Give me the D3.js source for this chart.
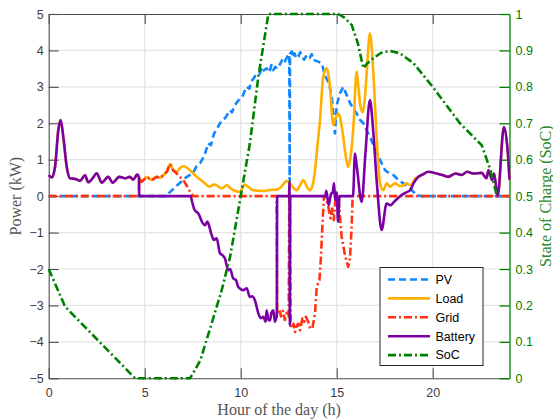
<!DOCTYPE html>
<html>
<head>
<meta charset="utf-8">
<script src="https://cdn.jsdelivr.net/npm/d3@7"></script>
<style>
  body { margin: 0; background: #fff; }
  svg { display: block; }
  .tick text { font-family: "Liberation Sans", Arial, sans-serif; font-size: 12.5px; }
</style>
</head>
<body>
<div id="chart"></div>
<script>
// ---------- data (hours / kW, SoC as fraction) ----------
var pvHours = [0, 6.1, 6.23, 6.5, 6.7, 6.95, 7.19, 7.5, 7.7, 7.88, 8.1, 8.31, 8.45, 8.6, 8.92, 9.05, 9.2, 9.44, 9.55, 9.7, 9.96, 10.1, 10.3, 10.45, 10.55, 10.7, 10.83, 11.0, 11.1, 11.2, 11.35, 11.5, 11.6, 11.7, 11.8, 11.9, 12.05, 12.2, 12.3, 12.45, 12.53, 12.55, 12.57, 12.66, 12.75, 12.8, 12.9, 13.0, 13.1, 13.2, 13.3, 13.44, 13.6, 13.7, 13.78, 14.0, 14.22, 14.4, 14.6, 14.75, 14.91, 15.0, 15.17, 15.34, 15.5, 15.7, 15.87, 16.04, 16.2, 16.39, 16.56, 16.73, 17.0, 17.26, 17.52, 17.75, 17.95, 18.2, 18.47, 18.8, 19.17, 19.4, 24];
var pvValues = [0, 0, 0.07, 0.2, 0.3, 0.42, 0.53, 0.62, 0.82, 0.9, 1.1, 1.45, 1.4, 1.7, 2.0, 2.1, 2.15, 2.36, 2.3, 2.5, 2.68, 2.75, 3.0, 2.95, 3.15, 3.25, 3.37, 3.37, 3.55, 3.45, 3.51, 3.4, 3.6, 3.46, 3.55, 3.5, 3.62, 3.78, 3.7, 3.85, 3.9, 0.4, 3.9, 3.97, 3.8, 3.92, 3.78, 3.83, 3.95, 3.85, 3.75, 3.87, 3.8, 3.9, 3.74, 3.7, 3.65, 3.3, 3.1, 2.7, 1.72, 2.5, 2.82, 3.0, 2.8, 2.55, 2.4, 2.27, 2.1, 2.0, 1.8, 1.63, 1.3, 0.99, 0.71, 0.62, 0.58, 0.45, 0.35, 0.22, 0.03, 0, 0];

var loadHours = [0, 0.16, 0.33, 0.5, 0.62, 0.76, 0.94, 1.11, 1.4, 1.63, 1.89, 2.06, 2.3, 2.5, 2.76, 3.1, 3.33, 3.68, 3.97, 4.23, 4.4, 4.61, 4.7, 4.84, 5.1, 5.36, 5.62, 5.8, 5.97, 6.15, 6.32, 6.49, 6.67, 6.85, 7.01, 7.2, 7.36, 7.71, 8.05, 8.4, 8.6, 8.75, 9.01, 9.27, 9.5, 9.7, 9.96, 10.22, 10.4, 10.66, 10.9, 11.18, 11.5, 11.87, 12.1, 12.4, 12.57, 12.75, 12.92, 13.1, 13.26, 13.45, 13.6, 13.75, 13.87, 14.0, 14.13, 14.3, 14.48, 14.65, 14.82, 14.95, 15.1, 15.2, 15.34, 15.47, 15.6, 15.75, 15.87, 16.04, 16.13, 16.21, 16.35, 16.45, 16.56, 16.73, 16.9, 17.08, 17.26, 17.43, 17.6, 17.78, 18.04, 18.3, 18.5, 18.65, 18.85, 19.08, 19.25, 19.5, 19.77, 20.0, 20.2, 20.5, 20.8, 21.2, 21.5, 21.8, 22.1, 22.55, 22.8, 22.9, 23.1, 23.2, 23.38, 23.71, 23.94, 24];
var loadValues = [0.58, 0.51, 0.8, 1.81, 2.09, 1.63, 0.8, 0.49, 0.47, 0.42, 0.57, 0.38, 0.5, 0.63, 0.37, 0.53, 0.37, 0.53, 0.49, 0.53, 0.45, 0.59, 0.52, 0.39, 0.53, 0.44, 0.53, 0.5, 0.58, 0.67, 0.88, 0.71, 0.67, 0.78, 0.82, 0.78, 0.71, 0.53, 0.39, 0.26, 0.32, 0.3, 0.21, 0.3, 0.2, 0.15, 0.12, 0.32, 0.25, 0.16, 0.15, 0.14, 0.17, 0.18, 0.25, 0.42, 0.35, 0.22, 0.16, 0.3, 0.44, 0.25, 0.16, 0.3, 0.71, 1.4, 2.09, 3.28, 3.51, 3.0, 1.95, 2.15, 2.27, 2.1, 1.63, 1.1, 0.8, 1.2, 1.9, 3.42, 3.0, 2.55, 2.3, 2.6, 3.37, 4.47, 3.46, 1.63, 0.35, 0.16, 0.35, 0.26, 0.35, 0.28, 0.3, 0.35, 0.3, 0.48, 0.53, 0.6, 0.67, 0.65, 0.62, 0.58, 0.53, 0.62, 0.58, 0.67, 0.62, 0.64, 0.49, 0.71, 0.44, 0.62, 0, 1.9, 0.99, 0.45];

var gridHours = [0, 4.7, 4.71, 4.84, 5.1, 5.36, 5.62, 5.8, 5.97, 6.15, 6.32, 6.5, 6.67, 6.85, 7.01, 7.2, 7.36, 7.53, 11.87, 11.9, 12.0, 12.1, 12.2, 12.3, 12.4, 12.5, 12.53, 12.56, 12.6, 12.66, 12.75, 12.83, 12.92, 13.0, 13.09, 13.21, 13.3, 13.39, 13.52, 13.61, 13.73, 13.87, 13.96, 14.1, 14.17, 14.27, 14.34, 14.4, 14.55, 14.68, 14.77, 14.85, 14.95, 15.08, 15.26, 15.43, 15.6, 15.69, 15.78, 15.83, 24];
var gridValues = [0, 0, 0.52, 0.39, 0.53, 0.44, 0.53, 0.5, 0.58, 0.67, 0.88, 0.7, 0.62, 0.52, 0.44, 0.28, 0.12, 0, 0, -3.2, -3.1, -3.3, -3.15, -3.4, -3.2, -3.3, 0, 0, -3.5, -3.63, -3.5, -3.73, -3.55, -3.5, -3.68, -3.36, -3.45, -3.31, -3.45, -3.63, -3.63, -3.22, -2.49, -2.31, -1.76, -0.66, 0, 0, -0.25, -0.61, -0.34, -0.66, 0, 0, -1.12, -1.62, -1.94, -1.71, -0.84, 0, 0];

var batteryHours = [0, 0.16, 0.33, 0.5, 0.62, 0.76, 0.94, 1.11, 1.4, 1.63, 1.89, 2.06, 2.3, 2.5, 2.76, 3.1, 3.33, 3.68, 3.97, 4.23, 4.4, 4.61, 4.7, 4.71, 7.4, 7.45, 7.6, 7.8, 8.0, 8.14, 8.26, 8.49, 8.6, 8.75, 8.92, 9.05, 9.18, 9.35, 9.45, 9.61, 9.75, 9.87, 10.0, 10.13, 10.31, 10.48, 10.6, 10.74, 10.92, 11.05, 11.18, 11.3, 11.35, 11.45, 11.53, 11.6, 11.7, 11.78, 11.84, 11.88, 11.9, 12.52, 12.54, 12.56, 12.58, 14.4, 14.46, 14.58, 14.7, 14.8, 14.86, 14.92, 15.0, 15.07, 15.15, 15.85, 15.95, 16.05, 16.3, 16.5, 16.73, 16.9, 17.1, 17.34, 17.6, 17.8, 18.0, 18.3, 18.6, 18.82, 19.0, 19.25, 19.5, 19.77, 20.0, 20.2, 20.5, 20.8, 21.2, 21.5, 21.8, 22.1, 22.55, 22.8, 22.9, 23.1, 23.2, 23.38, 23.71, 23.94, 24];
var batteryValues = [0.58, 0.51, 0.8, 1.81, 2.09, 1.63, 0.8, 0.49, 0.47, 0.42, 0.57, 0.38, 0.5, 0.63, 0.37, 0.53, 0.37, 0.53, 0.49, 0.53, 0.45, 0.59, 0.52, 0, 0, -0.11, -0.38, -0.48, -0.72, -0.8, -0.7, -1.07, -1.2, -1.16, -1.57, -1.62, -1.71, -2.03, -2.0, -2.26, -2.3, -2.49, -2.55, -2.58, -2.53, -2.77, -2.75, -2.86, -3.22, -3.35, -3.31, -3.45, -3.13, -3.4, -3.41, -3.2, -3.13, -3.45, -3.36, -3.3, 0, 0, 0.4, -3.55, 0, 0, 0.15, -0.25, 0.05, 0.12, 0.35, -0.1, 0.1, -0.7, 0, 0, 1.17, 0.8, -0.16, 1.2, 2.64, 1.8, 0.3, -0.93, -0.2, -0.25, -0.15, 0, 0.1, 0.16, 0.35, 0.53, 0.6, 0.67, 0.65, 0.62, 0.58, 0.53, 0.62, 0.58, 0.67, 0.62, 0.64, 0.49, 0.71, 0.44, 0.62, 0, 1.9, 0.99, 0.45];

var socHours = [0, 0.85, 4.5, 7.36, 7.62, 7.9, 8.14, 8.57, 9.01, 9.45, 9.96, 10.48, 10.92, 11.44, 15.08, 15.4, 15.78, 16.1, 16.39, 16.6, 16.9, 17.3, 17.78, 18.3, 19.0, 20.0, 21.42, 22.55, 22.98, 23.35];
var socValues = [0.3, 0.197, 0, 0, 0.023, 0.05, 0.091, 0.165, 0.242, 0.334, 0.488, 0.645, 0.828, 1.0, 1.0, 0.99, 0.97, 0.92, 0.851, 0.865, 0.878, 0.893, 0.899, 0.892, 0.865, 0.8, 0.7, 0.64, 0.576, 0.5];

var hourTicks = [0, 5, 10, 15, 20];
var powerTicks = [-5, -4, -3, -2, -1, 0, 1, 2, 3, 4, 5];
var socTicks = [0, 0.1, 0.2, 0.3, 0.4, 0.5, 0.6, 0.7, 0.8, 0.9, 1];

var seriesNames = ["PV", "Load", "Grid", "Battery", "SoC"];

// ---------- layout ----------
var width = 553, height = 419;
var plotLeft = 48.7, plotRight = 509.5, plotTop = 14, plotBottom = 378.3;

var svg = d3.select("#chart").append("svg")
    .attr("width", width)
    .attr("height", height);

var x = d3.scaleLinear().domain([0, 24]).range([plotLeft, plotRight]);
var y = d3.scaleLinear().domain([-5, 5]).range([plotBottom, plotTop]);
var ySoc = d3.scaleLinear().domain([0, 1]).range([plotBottom, plotTop]);

var axisGray = "#4d4d4d";
var socGreen = "#008000";

// grid lines
svg.append("g").selectAll("line")
    .data(hourTicks.slice(1))
    .enter().append("line")
    .attr("x1", function(d) { return x(d); })
    .attr("x2", function(d) { return x(d); })
    .attr("y1", plotTop).attr("y2", plotBottom)
    .attr("stroke", "#e4e4e4").attr("stroke-width", 1.2);
svg.append("g").selectAll("line")
    .data(powerTicks.slice(1, -1))
    .enter().append("line")
    .attr("x1", plotLeft).attr("x2", plotRight)
    .attr("y1", function(d) { return y(d); })
    .attr("y2", function(d) { return y(d); })
    .attr("stroke", "#e4e4e4").attr("stroke-width", 1.2);

// axes
var xAxis = svg.append("g")
    .attr("transform", "translate(0," + plotBottom + ")")
    .call(d3.axisBottom(x).tickValues(hourTicks).tickSizeInner(-10).tickSizeOuter(0).tickPadding(10));
var xTop = svg.append("g")
    .attr("transform", "translate(0," + plotTop + ")")
    .call(d3.axisTop(x).tickValues(hourTicks).tickSizeInner(-10).tickSizeOuter(0).tickFormat(""));
var yAxis = svg.append("g")
    .attr("transform", "translate(" + plotLeft + ",0)")
    .call(d3.axisLeft(y).tickValues(powerTicks).tickSizeInner(-10).tickSizeOuter(0).tickPadding(5));
var yRight = svg.append("g")
    .attr("transform", "translate(" + plotRight + ",0)")
    .call(d3.axisRight(ySoc).tickValues(socTicks).tickSizeInner(-10).tickSizeOuter(0).tickPadding(6)
        .tickFormat(d3.format("")));

[xAxis, xTop, yAxis].forEach(function(g) {
    g.selectAll("path, line").attr("stroke", axisGray).attr("stroke-width", 1.1);
    g.selectAll("text").attr("fill", "#404040");
});
yRight.selectAll("path, line").attr("stroke", socGreen).attr("stroke-width", 1.3);
yRight.selectAll("text").attr("fill", socGreen);

// axis titles
var serif = "'Liberation Serif', 'Times New Roman', serif";
svg.append("text")
    .attr("x", (plotLeft + plotRight) / 2).attr("y", 415)
    .attr("text-anchor", "middle")
    .style("font-family", serif).style("font-size", "16px")
    .attr("fill", "#555")
    .text("Hour of the day (h)");
svg.append("text")
    .attr("transform", "translate(21," + (plotTop + plotBottom) / 2 + ") rotate(-90)")
    .attr("text-anchor", "middle")
    .style("font-family", serif).style("font-size", "16px")
    .attr("fill", "#555")
    .text("Power (kW)");
svg.append("text")
    .attr("transform", "translate(551," + (plotTop + plotBottom) / 2 + ") rotate(-90)")
    .attr("text-anchor", "middle")
    .style("font-family", serif).style("font-size", "16px")
    .attr("fill", "#2a8a2a")
    .text("State of Charge (SoC)");

// ---------- series ----------
var series = [
    { name: "PV", hours: pvHours, values: pvValues, color: "#1185ff", dash: "7,4", scale: y, curve: d3.curveLinear },
    { name: "Load", hours: loadHours, values: loadValues, color: "#ffb000", dash: null, scale: y, curve: d3.curveMonotoneX },
    { name: "Grid", hours: gridHours, values: gridValues, color: "#ff3311", dash: "8,3,2,3", scale: y, curve: d3.curveLinear },
    { name: "Battery", hours: batteryHours, values: batteryValues, color: "#7a00a6", dash: null, scale: y, curve: d3.curveMonotoneX },
    { name: "SoC", hours: socHours, values: socValues, color: socGreen, dash: "8,3,2,3", scale: ySoc, curve: d3.curveLinear }
];

series.forEach(function(s) {
    var pts = s.hours.map(function(h, i) { return [h, s.values[i]]; });
    var line = d3.line()
        .x(function(d) { return x(d[0]); })
        .y(function(d) { return s.scale(d[1]); })
        .curve(s.curve);
    svg.append("path")
        .datum(pts)
        .attr("d", line)
        .attr("fill", "none")
        .attr("stroke", s.color)
        .attr("stroke-width", 2.6)
        .attr("stroke-linejoin", "round")
        .attr("stroke-dasharray", s.dash);
});

// ---------- legend ----------
var legend = svg.append("g").attr("transform", "translate(380,267.5)");
legend.append("rect")
    .attr("width", 103).attr("height", 98)
    .attr("fill", "#fff")
    .attr("stroke", "#262626").attr("stroke-width", 1);
var item = legend.selectAll("g.item")
    .data(series)
    .enter().append("g")
    .attr("class", "item")
    .attr("transform", function(d, i) { return "translate(0," + (12 + i * 18.9) + ")"; });
item.append("line")
    .attr("x1", 8).attr("x2", 50)
    .attr("stroke", function(d) { return d.color; })
    .attr("stroke-width", 2.6)
    .attr("stroke-dasharray", function(d) { return d.dash; });
item.append("text")
    .attr("x", 55.5).attr("dy", "0.35em")
    .style("font-family", "'Liberation Sans', Arial, sans-serif")
    .style("font-size", "12.5px")
    .attr("fill", "#000")
    .text(function(d, i) { return seriesNames[i]; });
</script>
</body>
</html>
